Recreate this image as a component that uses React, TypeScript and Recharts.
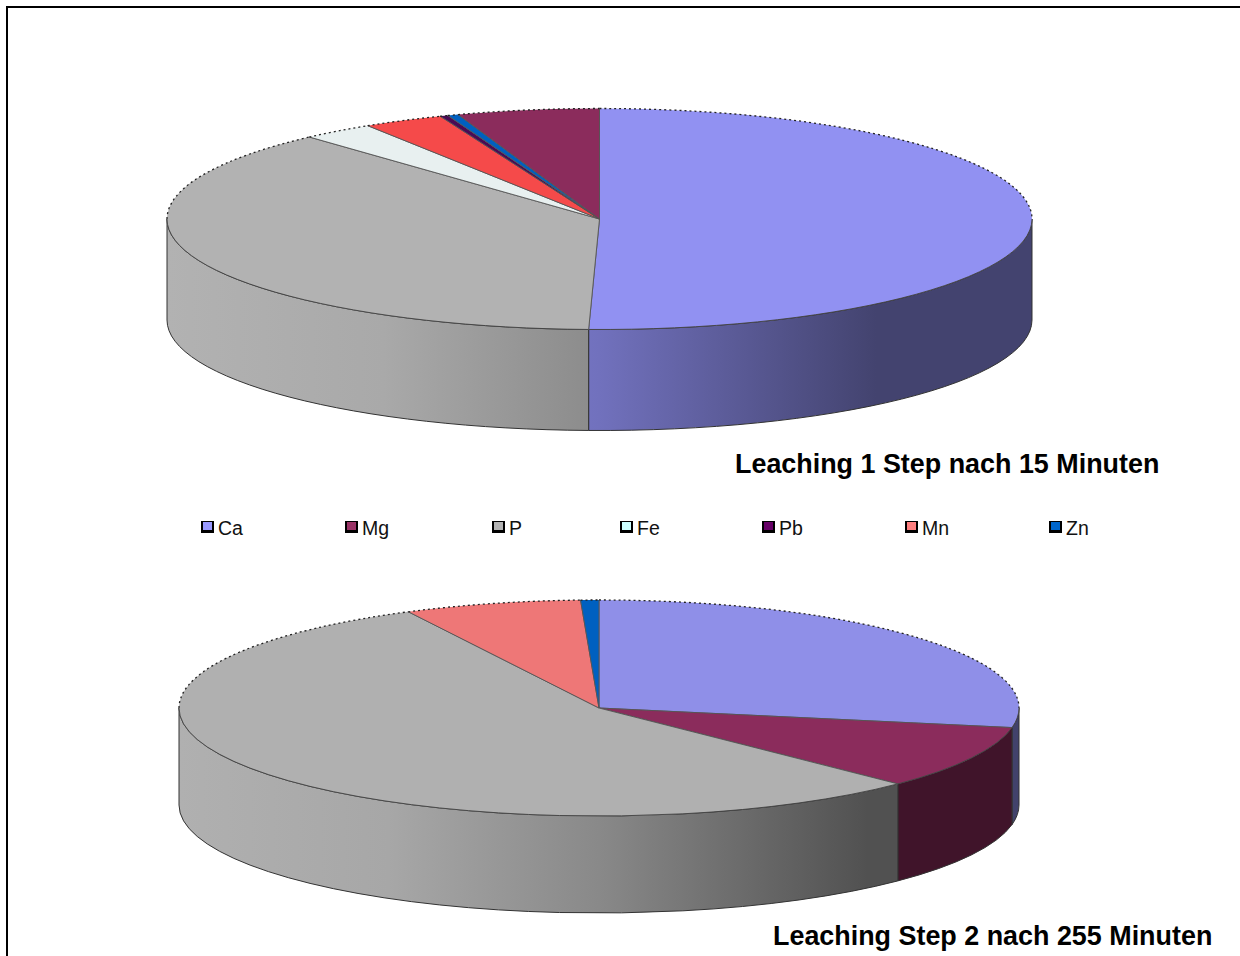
import React from 'react';
import { PieChart, Pie, Legend } from 'recharts';

// first chart, clockwise from 12 o'clock
const stepOneNames = ['Ca', 'P', 'Fe', 'Mn', 'Pb', 'Zn', 'Mg'];
const stepOneValues = [50.4, 37.9, 2.7, 3.0, 0.3, 0.4, 5.3];

// second chart
const stepTwoNames = ['Ca', 'Mg', 'P', 'Mn', 'Zn'];
const stepTwoValues = [27.9, 9.5, 55.1, 6.8, 0.7];

const legendNames = ['Ca', 'Mg', 'P', 'Fe', 'Pb', 'Mn', 'Zn'];

const stepOneTitle = 'Leaching 1 Step nach 15 Minuten';
const stepTwoTitle = 'Leaching Step 2 nach 255 Minuten';

const legendColors: Record<string, string> = {
  Ca: '#9999ff', Mg: '#993366', P: '#b2b2b2', Fe: '#ccffff', Pb: '#660066', Mn: '#ff8080', Zn: '#0066cc',
};
const stepOneColors: Record<string, string> = {
  Ca: '#9191f2', Mg: '#8b2c5c', P: '#b2b2b2', Fe: '#e8f0f0', Pb: '#4a0a55', Mn: '#f54a4a', Zn: '#0060c0',
};
const stepTwoColors: Record<string, string> = {
  Ca: '#8f8fe8', Mg: '#8b2c5c', P: '#b0b0b0', Fe: '#e8f0f0', Pb: '#4a0a55', Mn: '#ee7777', Zn: '#0060c0',
};
const legendLefts = [201, 345, 492, 620, 762, 905, 1049];

const shadeStops = [
  { at: 0, k: 1 },
  { at: 0.25, k: 0.95 },
  { at: 0.5, k: 0.78 },
  { at: 0.82, k: 0.46 },
  { at: 1, k: 0.46 },
];

const shade = (hex: string, k: number) => {
  const n = parseInt(hex.slice(1), 16);
  const ch = (v: number) => Math.round(v * k);
  return `rgb(${ch((n >> 16) & 255)},${ch((n >> 8) & 255)},${ch(n & 255)})`;
};

const pt = (g: any, a: number, dy = 0) => {
  const r = (a * Math.PI) / 180;
  return [g.cx + g.rx * Math.cos(r), g.cy - g.ry * Math.sin(r) + dy];
};

// clockwise elliptical arc from angle a to angle b (a > b)
const arc = (g: any, a: number, b: number, dy = 0) => {
  const [x, y] = pt(g, b, dy);
  return `A ${g.rx} ${g.ry} 0 ${a - b > 180 ? 1 : 0} 1 ${x} ${y}`;
};

const topShape = (ry: number) => (p: any) => {
  const g = { cx: p.cx, cy: p.cy, rx: p.outerRadius, ry };
  const a = p.startAngle;
  const b = p.endAngle;
  const [x0, y0] = pt(g, a);
  const [x1, y1] = pt(g, b);
  const ranges = [
    { from: Math.min(a, 90), to: Math.max(b, 0), back: true },
    { from: Math.min(a, 0), to: Math.max(b, -180), back: false },
    { from: Math.min(a, -180), to: Math.max(b, -270), back: true },
  ].filter((r) => r.from > r.to);
  return (
    <g>
      <path d={`M ${g.cx} ${g.cy} L ${x0} ${y0} ${arc(g, a, b)} Z`} fill={p.fill} stroke="none" />
      <path d={`M ${x0} ${y0} L ${g.cx} ${g.cy} L ${x1} ${y1}`} fill="none" stroke="#555" strokeWidth={0.9} />
      {ranges.map((r) => {
        const [sx, sy] = pt(g, r.from);
        return (
          <path
            key={r.from}
            d={`M ${sx} ${sy} ${arc(g, r.from, r.to)}`}
            fill="none"
            stroke={r.back ? '#222' : '#444'}
            strokeWidth={r.back ? 1.3 : 0.9}
            strokeDasharray={r.back ? '2 3' : undefined}
          />
        );
      })}
    </g>
  );
};

const wallShape = (ry: number, depth: number) => (p: any) => {
  const g = { cx: p.cx, cy: p.cy, rx: p.outerRadius, ry };
  const from = Math.min(p.startAngle, 0);
  const to = Math.max(p.endAngle, -180);
  if (from <= to) return <g />;
  const [x0, y0] = pt(g, from);
  const [bx, by] = pt(g, from, depth);
  const [ex, ey] = pt(g, to, depth);
  const back = `A ${g.rx} ${g.ry} 0 0 0 ${bx} ${by}`;
  return (
    <path d={`M ${x0} ${y0} ${arc(g, from, to)} L ${ex} ${ey} ${back} Z`} fill={p.fill} stroke="#333" strokeWidth={1} />
  );
};

const gradId = (pie: string, name: string) => `wall-${pie}-${name}`;

const wallGradients = (pie: string, colors: Record<string, string>, names: string[], cx: number, rx: number) =>
  names.map((name) => (
    <linearGradient
      key={name}
      id={gradId(pie, name)}
      gradientUnits="userSpaceOnUse"
      x1={cx - rx}
      x2={cx + rx}
      y1={0}
      y2={0}
    >
      {shadeStops.map((s) => (
        <stop key={s.at} offset={s.at} stopColor={shade(colors[name], s.k)} />
      ))}
    </linearGradient>
  ));

const toRows = (names: string[], values: number[], colors: Record<string, string>) =>
  names.map((name, i) => ({ name, value: values[i], fill: colors[name] }));

const toWallRows = (pie: string, names: string[], values: number[]) =>
  names.map((name, i) => ({ name, value: values[i], fill: `url(#${gradId(pie, name)})` }));

const renderLegend = () => (
  <div style={{ position: 'relative', width: 1240, height: 30 }}>
    {legendNames.map((name, i) => (
      <div key={name} style={{ position: 'absolute', left: legendLefts[i], top: 0, height: 30 }}>
        <div
          style={{
            position: 'absolute',
            left: 0,
            top: 4,
            width: 9,
            height: 8,
            background: legendColors[name],
            borderStyle: 'solid',
            borderColor: '#000',
            borderWidth: '1px 2px 3px 2px',
          }}
        />
        <div style={{ position: 'absolute', left: 17, top: 0, lineHeight: '22px', fontSize: 19.5, color: '#111' }}>
          {name}
        </div>
      </div>
    ))}
  </div>
);

const titleStyle: React.CSSProperties = {
  position: 'absolute',
  whiteSpace: 'nowrap',
  fontWeight: 700,
  fontSize: 26.9,
  lineHeight: '30px',
  color: '#000',
};

export default function App() {
  const pieProps = { startAngle: 90, endAngle: -270, dataKey: 'value', nameKey: 'name', isAnimationActive: false };
  return (
    <div
      style={{
        position: 'fixed',
        left: 0,
        top: 0,
        width: 1240,
        height: 956,
        overflow: 'hidden',
        background: '#fff',
        fontFamily: '"Liberation Sans", Arial, sans-serif',
      }}
    >
      <div style={{ position: 'absolute', left: 6, top: 6, width: 1240, height: 956, borderLeft: '2px solid #000', borderTop: '2px solid #000' }} />
      <div style={{ position: 'absolute', left: 0, top: 0 }}>
        <PieChart width={1240} height={956} margin={{ top: 0, right: 0, bottom: 0, left: 0 }}>
          <defs>
            {wallGradients('one', stepOneColors, stepOneNames, 599.5, 432.5)}
            {wallGradients('two', stepTwoColors, stepTwoNames, 599, 420)}
          </defs>
          <Pie
            {...pieProps}
            data={toWallRows('one', stepOneNames, stepOneValues)}
            cx={599.5}
            cy={219}
            outerRadius={432.5}
            shape={wallShape(110.5, 101)}
          />
          <Pie
            {...pieProps}
            data={toRows(stepOneNames, stepOneValues, stepOneColors)}
            cx={599.5}
            cy={219}
            outerRadius={432.5}
            shape={topShape(110.5)}
          />
          <Pie
            {...pieProps}
            data={toWallRows('two', stepTwoNames, stepTwoValues)}
            cx={599}
            cy={708}
            outerRadius={420}
            shape={wallShape(108, 97)}
          />
          <Pie
            {...pieProps}
            data={toRows(stepTwoNames, stepTwoValues, stepTwoColors)}
            cx={599}
            cy={708}
            outerRadius={420}
            shape={topShape(108)}
          />
          <Legend content={renderLegend} wrapperStyle={{ position: 'absolute', left: 0, top: 517, width: 1240 }} />
        </PieChart>
      </div>
      <div style={{ ...titleStyle, left: 735, top: 449 }}>{stepOneTitle}</div>
      <div style={{ ...titleStyle, left: 773, top: 921 }}>{stepTwoTitle}</div>
    </div>
  );
}
